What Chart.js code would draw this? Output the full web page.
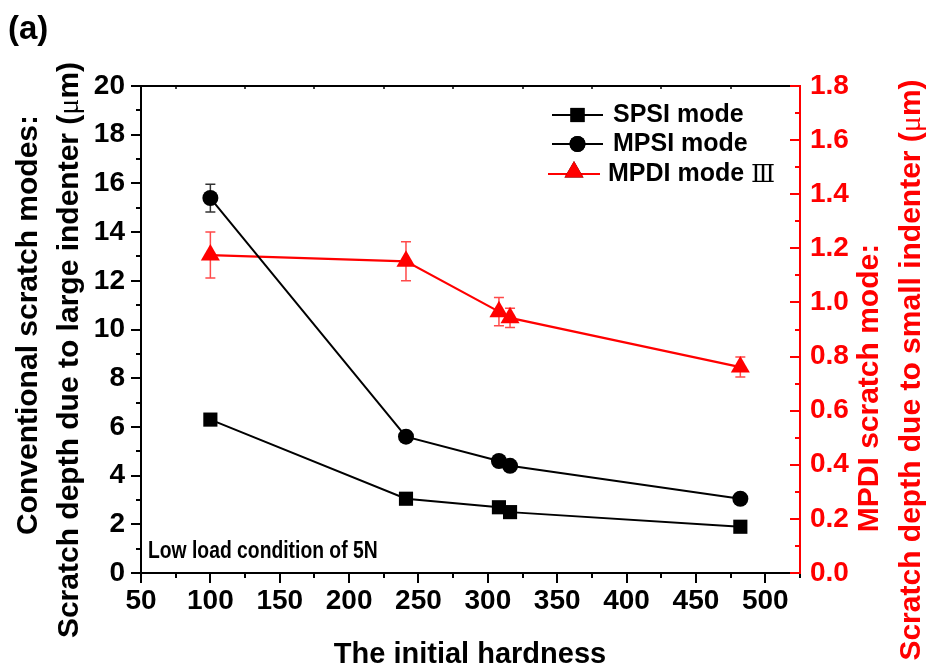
<!DOCTYPE html>
<html>
<head>
<meta charset="utf-8">
<script src="https://cdn.jsdelivr.net/npm/chart.js@4/dist/chart.umd.min.js"></script>
<style>
  html, body { margin: 0; padding: 0; background: #fff; }
  #wrap { width: 930px; height: 671px; }
</style>
</head>
<body>
<div id="wrap"><canvas id="c" width="930" height="671"></canvas></div>
<script>
// Initial hardness of the samples (x axis)
const hardness = [100, 241, 308, 316, 482];
// Conventional scratch depth, left axis (µm)
const spsiDepth = [6.3, 3.05, 2.7, 2.5, 1.9];
const mpsiDepth = [15.4, 5.6, 4.6, 4.4, 3.05];
const mpsiErr   = [0.57, 0.1, 0.1, 0.1, 0.1];
// MPDI scratch depth, right axis (µm)
const mpdiDepth = [1.175, 1.152, 0.966, 0.943, 0.761];
const mpdiErr   = [0.085, 0.072, 0.052, 0.036, 0.037];

// Axis tick settings
const xTicks = [50, 100, 150, 200, 250, 300, 350, 400, 450, 500];
const yLeftTicks = [0, 2, 4, 6, 8, 10, 12, 14, 16, 18, 20];
const yRightTicks = [0.0, 0.2, 0.4, 0.6, 0.8, 1.0, 1.2, 1.4, 1.6, 1.8];

const legendLabels = ['SPSI mode', 'MPSI mode', 'MPDI mode '];
const noteText = 'Low load condition of 5N';

const SANS = "'Liberation Sans', Arial, Helvetica, sans-serif";
const SERIF = "'Liberation Serif', 'Times New Roman', 'DejaVu Serif', serif";
const RED = '#ff0000';

Chart.defaults.font.family = SANS;
Chart.defaults.font.weight = 'bold';
Chart.defaults.color = '#000';

function pts(xs, ys) { return xs.map((x, i) => ({ x: x, y: ys[i] })); }

// draws a sequence of text runs (possibly different fonts) centred on (cx, cy)
function drawRuns(ctx, runs, cx, cy, rot, color) {
  ctx.save();
  ctx.translate(cx, cy);
  ctx.rotate(rot);
  ctx.fillStyle = color;
  ctx.textBaseline = 'middle';
  ctx.textAlign = 'left';
  let total = 0;
  runs.forEach(r => { ctx.font = r.font; r.w = ctx.measureText(r.text).width; total += r.w; });
  let x = -total / 2;
  runs.forEach(r => { ctx.font = r.font; ctx.fillText(r.text, x, 0); x += r.w; });
  ctx.restore();
}

function marker(ctx, style, r, x, y, color) {
  Chart.helpers.drawPoint(ctx, { pointStyle: style, radius: r, borderWidth: 0, rotation: 0 }, x, y);
  ctx.fillStyle = color;
  ctx.fill();
}

const errorBars = {
  id: 'errorBars',
  beforeDatasetsDraw(chart) {
    const ctx = chart.ctx;
    const xs = chart.scales.x;
    const sets = [
      { ys: chart.scales.y, vals: mpsiDepth, err: mpsiErr, color: '#333' },
      { ys: chart.scales.y2, vals: mpdiDepth, err: mpdiErr, color: '#ff4a4a' }
    ];
    ctx.save();
    ctx.lineWidth = 1.5;
    sets.forEach(s => {
      ctx.strokeStyle = s.color;
      hardness.forEach((h, i) => {
        const px = xs.getPixelForValue(h);
        const top = s.ys.getPixelForValue(s.vals[i] + s.err[i]);
        const bot = s.ys.getPixelForValue(s.vals[i] - s.err[i]);
        ctx.beginPath();
        ctx.moveTo(px, top); ctx.lineTo(px, bot);
        ctx.moveTo(px - 5, top); ctx.lineTo(px + 5, top);
        ctx.moveTo(px - 5, bot); ctx.lineTo(px + 5, bot);
        ctx.stroke();
      });
    });
    ctx.restore();
  }
};

const frame = {
  id: 'frame',
  afterDraw(chart) {
    const ctx = chart.ctx;
    const a = chart.chartArea;
    const xs = chart.scales.x, yl = chart.scales.y, yr = chart.scales.y2;
    ctx.save();
    ctx.lineWidth = 2;
    ctx.lineCap = 'butt';
    // black frame: left, bottom, top
    ctx.strokeStyle = '#000';
    ctx.beginPath();
    ctx.moveTo(a.left, a.top); ctx.lineTo(a.left, a.bottom);
    ctx.moveTo(a.left - 1, a.bottom); ctx.lineTo(a.right, a.bottom);
    ctx.moveTo(a.left - 1, a.top); ctx.lineTo(a.right, a.top);
    // left ticks (outward)
    for (let v = 0; v <= 20; v += 1) {
      const p = Math.round(yl.getPixelForValue(v));
      const len = v % 2 === 0 ? 10 : 5;
      ctx.moveTo(a.left - len, p); ctx.lineTo(a.left, p);
    }
    // bottom ticks (outward)
    for (let v = 50; v <= 525; v += 25) {
      const p = Math.round(xs.getPixelForValue(v));
      const len = v % 50 === 0 ? 10 : 5;
      ctx.moveTo(p, a.bottom); ctx.lineTo(p, a.bottom + len);
    }
    ctx.stroke();
    // top minor ticks (inward)
    ctx.lineWidth = 1.5;
    ctx.beginPath();
    for (let v = 75; v <= 525; v += 50) {
      const p = Math.round(xs.getPixelForValue(v));
      ctx.moveTo(p, a.top); ctx.lineTo(p, a.top + 3);
    }
    ctx.stroke();
    // red right axis with inward ticks
    ctx.lineWidth = 2;
    ctx.strokeStyle = RED;
    ctx.beginPath();
    ctx.moveTo(a.right, a.top - 1); ctx.lineTo(a.right, a.bottom + 1);
    for (let k = 0; k <= 18; k++) {
      const p = Math.round(yr.getPixelForValue(k / 10));
      const len = k % 2 === 0 ? 10 : 5;
      ctx.moveTo(a.right - len, p); ctx.lineTo(a.right, p);
    }
    ctx.stroke();

    // legend
    const lg = [
      { y: 115, x0: 552, x1: 603, tx: 613, style: 'rect', r: 10, color: '#000', lw: 2 },
      { y: 144, x0: 552, x1: 603, tx: 613, style: 'circle', r: 8, color: '#000', lw: 2 },
      { y: 174, x0: 548, x1: 600, tx: 608, style: 'triangle', r: 11, color: RED, lw: 2 }
    ];
    lg.forEach((e, i) => {
      ctx.strokeStyle = e.color;
      ctx.lineWidth = e.lw;
      ctx.beginPath();
      ctx.moveTo(e.x0, e.y); ctx.lineTo(e.x1, e.y);
      ctx.stroke();
      marker(ctx, e.style, e.r, (e.x0 + e.x1) / 2, e.y + (e.style === 'triangle' ? -2 : 0), e.color);
      ctx.fillStyle = '#000';
      ctx.textBaseline = 'middle';
      ctx.textAlign = 'left';
      ctx.font = 'bold 25px ' + SANS;
      ctx.fillText(legendLabels[i], e.tx, e.y);
      if (i === 2) {
        const w = ctx.measureText(legendLabels[i]).width;
        ctx.font = '25px ' + SERIF;
        ctx.fillText('\u2162', e.tx + w, e.y + 1);
      }
    });

    // note in the lower-left corner (slightly condensed)
    ctx.save();
    ctx.translate(148, 552);
    ctx.scale(0.84, 1);
    ctx.fillStyle = '#000';
    ctx.font = 'bold 23px ' + SANS;
    ctx.textBaseline = 'middle';
    ctx.textAlign = 'left';
    ctx.fillText(noteText, 0, 0);
    ctx.restore();

    // panel label
    ctx.fillStyle = '#000';
    ctx.textBaseline = 'middle';
    ctx.textAlign = 'left';
    ctx.font = 'bold 33px ' + SANS;
    ctx.fillText('(a)', 8, 30);

    // axis titles
    const tf = 'bold 30px ' + SANS;
    const mu = '30px ' + SERIF;
    ctx.font = 'bold 29px ' + SANS;
    ctx.textAlign = 'center';
    ctx.fillText('The initial hardness', 470, 655);
    drawRuns(ctx, [{ text: 'Conventional scratch modes:', font: tf }], 29, 325, -Math.PI / 2, '#000');
    drawRuns(ctx, [
      { text: 'Scratch depth due to large indenter (', font: tf },
      { text: '\u03bc', font: mu },
      { text: 'm)', font: tf }
    ], 70, 350, -Math.PI / 2, '#000');
    drawRuns(ctx, [{ text: 'MPDI scratch mode:', font: tf }], 870, 388, -Math.PI / 2, RED);
    drawRuns(ctx, [
      { text: 'Scratch depth due to small indenter (', font: tf },
      { text: '\u03bc', font: mu },
      { text: 'm)', font: tf }
    ], 912, 370, -Math.PI / 2, RED);
    ctx.restore();
  }
};

new Chart(document.getElementById('c'), {
  type: 'line',
  data: {
    datasets: [
      {
        label: legendLabels[0], data: pts(hardness, spsiDepth), yAxisID: 'y',
        borderColor: '#000', backgroundColor: '#000', borderWidth: 2,
        pointStyle: 'rect', pointRadius: 10, pointBorderWidth: 0, tension: 0
      },
      {
        label: legendLabels[1], data: pts(hardness, mpsiDepth), yAxisID: 'y',
        borderColor: '#000', backgroundColor: '#000', borderWidth: 2,
        pointStyle: 'circle', pointRadius: 8, pointBorderWidth: 0, tension: 0
      },
      {
        label: legendLabels[2], data: pts(hardness, mpdiDepth), yAxisID: 'y2',
        borderColor: RED, backgroundColor: RED, borderWidth: 2.2,
        pointStyle: 'triangle', pointRadius: 11, pointBorderWidth: 0, tension: 0
      }
    ]
  },
  options: {
    responsive: false,
    animation: false,
    events: [],
    layout: { padding: { top: 86, left: 0, right: 0, bottom: 0 } },
    plugins: { legend: { display: false }, tooltip: { enabled: false }, title: { display: false } },
    scales: {
      x: {
        type: 'linear', min: 50, max: 525,
        afterFit: s => { s.height = 98; },
        grid: { display: false, drawTicks: false },
        border: { display: false },
        afterBuildTicks: s => { s.ticks = xTicks.map(v => ({ value: v })); },
        ticks: { padding: 11, font: { size: 28, weight: 'bold' }, color: '#000', autoSkip: false, maxRotation: 0,
          callback: v => String(v) }
      },
      y: {
        type: 'linear', position: 'left', min: 0, max: 20,
        afterFit: s => { s.width = 141; },
        grid: { display: false, drawTicks: false },
        border: { display: false },
        afterBuildTicks: s => { s.ticks = yLeftTicks.map(v => ({ value: v })); },
        ticks: { padding: 16, font: { size: 28, weight: 'bold' }, color: '#000', autoSkip: false,
          callback: v => String(v) }
      },
      y2: {
        type: 'linear', position: 'right', min: 0, max: 1.8,
        afterFit: s => { s.width = 130; },
        grid: { display: false, drawTicks: false },
        border: { display: false },
        afterBuildTicks: s => { s.ticks = yRightTicks.map(v => ({ value: v })); },
        ticks: { padding: 10, font: { size: 28, weight: 'bold' }, color: RED, autoSkip: false,
          callback: v => Number(v).toFixed(1) }
      }
    }
  },
  plugins: [errorBars, frame]
});
</script>
</body>
</html>
